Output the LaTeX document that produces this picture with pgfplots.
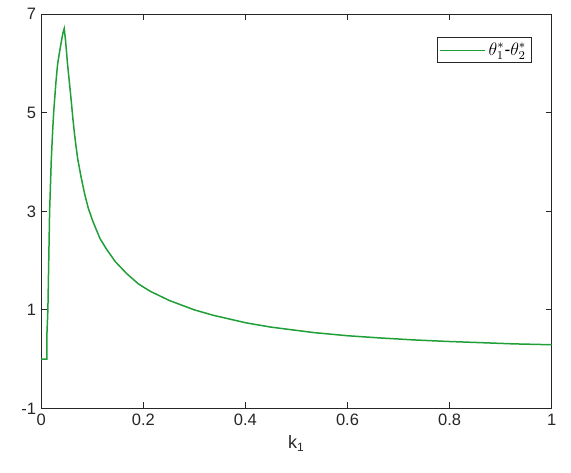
\documentclass[border=0pt]{standalone}
\usepackage{pgfplots}
\pgfplotsset{compat=1.18}
\usepackage{fontspec}
\setmainfont{Liberation Sans}
\definecolor{mgreen}{RGB}{32,158,56}
\definecolor{axgray}{RGB}{38,38,38}
\begin{document}
\begin{tikzpicture}
\begin{axis}[
    scale only axis,
    width=340.3pt,
    height=262.8pt,
    xmin=0, xmax=1,
    ymin=-1, ymax=7,
    xtick={0,0.2,0.4,0.6,0.8,1},
    ytick={-1,1,3,5,7},
    xticklabels={0,0.2,0.4,0.6,0.8,1},
    tick align=inside,
    tick pos=both,
    major tick length=4pt,
    axis line style={axgray, line width=0.65pt},
    every tick/.style={axgray, line width=0.65pt},
    tick label style={font=\fontsize{11}{13}\selectfont, text=axgray},
    /pgf/number format/assume math mode=true,
    xlabel={k$_{\mathrm{1}}$},
    xlabel style={font=\fontsize{12}{14}\selectfont, text=axgray},
    legend style={at={(0.961,0.942)}, anchor=north east, draw=axgray, line width=0.5pt,
        font=\fontsize{11.5}{13}\selectfont, inner sep=1.5pt},
    legend cell align=left,
    legend image code/.code={\draw[#1, line width=0.8pt] (0pt,0pt) -- (30pt,0pt);},
]
\addplot[mgreen, line width=1pt] coordinates {
    (0,0) (0.011,0) (0.0111,0.5) (0.013,1.0) (0.0147,2.0) (0.0164,3.0)
    (0.0195,4.0) (0.0222,4.6) (0.0243,5.0) (0.0262,5.27) (0.029,5.65)
    (0.032,5.98) (0.0353,6.2) (0.0398,6.47) (0.0425,6.62) (0.045,6.71)
    (0.0476,6.47) (0.0516,5.98) (0.0553,5.6) (0.0588,5.24) (0.062,4.88)
    (0.0653,4.56) (0.0685,4.29) (0.0717,4.05) (0.078,3.7) (0.0849,3.36)
    (0.092,3.07) (0.101,2.8) (0.115,2.45) (0.128,2.23) (0.145,1.98)
    (0.167,1.74) (0.19,1.53) (0.213,1.38) (0.251,1.19) (0.3,1.0)
    (0.337,0.89) (0.402,0.735) (0.45,0.65) (0.533,0.54) (0.6,0.475)
    (0.664,0.43) (0.73,0.39) (0.794,0.36) (0.86,0.335) (0.925,0.31)
    (1.0,0.292)
};
\addlegendentry{$\theta_1^*$-$\theta_2^*$}
\end{axis}
\path (current axis.south west) ++(-27.5pt,-43pt)
      (current axis.north east) ++(12.9pt,9.5pt);
\end{tikzpicture}
\end{document}
